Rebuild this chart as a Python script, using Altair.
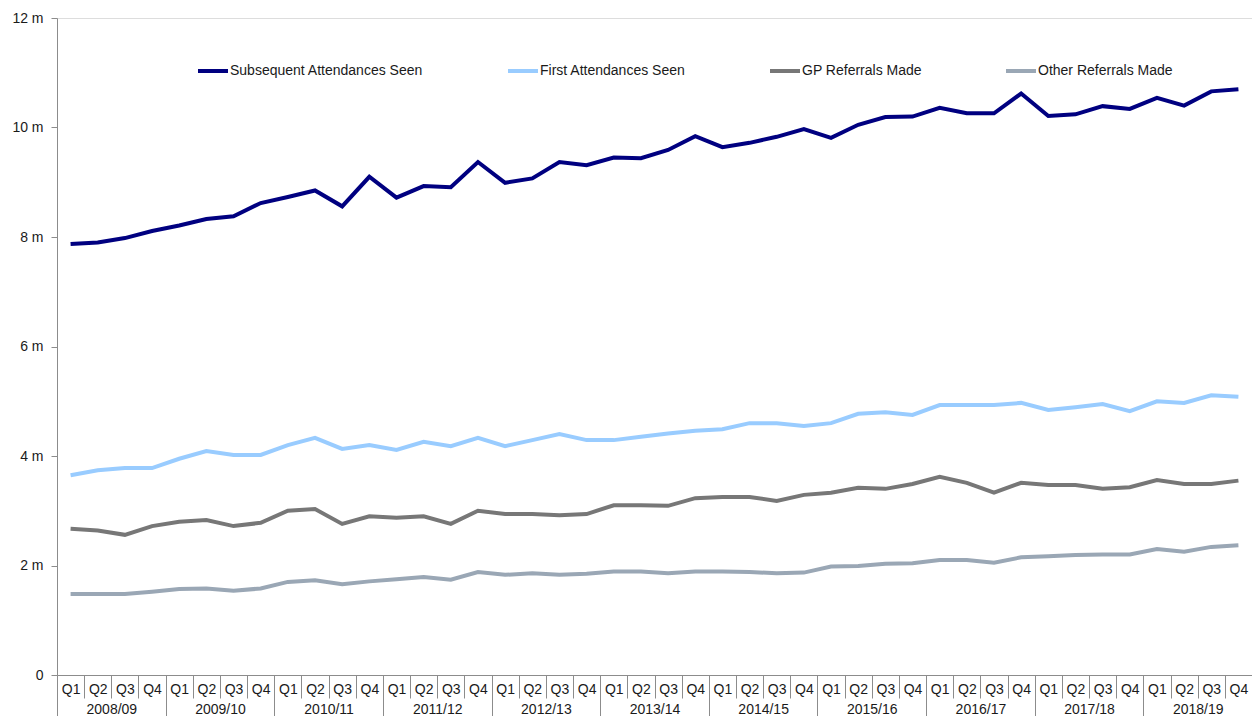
import altair as alt
import pandas as pd

years = ["2008/09", "2009/10", "2010/11", "2011/12", "2012/13", "2013/14",
         "2014/15", "2015/16", "2016/17", "2017/18", "2018/19"]
quarters = ["Q1", "Q2", "Q3", "Q4"]

series_names = ["Subsequent Attendances Seen", "First Attendances Seen",
                "GP Referrals Made", "Other Referrals Made"]
series_colors = ["#000080", "#99CCFF", "#777777", "#9AA7B5"]

# values in millions, one per quarter (2008/09 Q1 ... 2018/19 Q4)
subsequent = [7.87, 7.90, 7.98, 8.11, 8.21, 8.33, 8.38, 8.62, 8.73, 8.85, 8.56, 9.10,
              8.72, 8.93, 8.91, 9.37, 8.99, 9.07, 9.37, 9.31, 9.45, 9.44, 9.59, 9.84,
              9.64, 9.72, 9.83, 9.97, 9.81, 10.05, 10.19, 10.20, 10.36, 10.26, 10.26, 10.62,
              10.21, 10.24, 10.39, 10.34, 10.54, 10.40, 10.66, 10.70]
first = [3.65, 3.74, 3.78, 3.78, 3.95, 4.09, 4.02, 4.02, 4.20, 4.33, 4.13, 4.20,
         4.11, 4.26, 4.18, 4.33, 4.18, 4.29, 4.40, 4.29, 4.29, 4.35, 4.41, 4.46,
         4.49, 4.60, 4.60, 4.55, 4.60, 4.77, 4.80, 4.75, 4.93, 4.93, 4.93, 4.97,
         4.84, 4.89, 4.95, 4.82, 5.00, 4.97, 5.11, 5.08]
gp = [2.67, 2.64, 2.56, 2.72, 2.80, 2.83, 2.72, 2.78, 3.00, 3.03, 2.76, 2.90,
      2.87, 2.90, 2.76, 3.00, 2.94, 2.94, 2.92, 2.94, 3.10, 3.10, 3.09, 3.23,
      3.25, 3.25, 3.18, 3.29, 3.33, 3.42, 3.40, 3.49, 3.62, 3.51, 3.33, 3.51,
      3.47, 3.47, 3.40, 3.43, 3.56, 3.49, 3.49, 3.55]
other = [1.48, 1.48, 1.48, 1.52, 1.57, 1.58, 1.54, 1.58, 1.70, 1.73, 1.66, 1.71,
         1.75, 1.79, 1.74, 1.88, 1.83, 1.86, 1.83, 1.85, 1.89, 1.89, 1.86, 1.89,
         1.89, 1.88, 1.86, 1.87, 1.98, 1.99, 2.03, 2.04, 2.10, 2.10, 2.05, 2.15,
         2.17, 2.19, 2.20, 2.20, 2.30, 2.25, 2.34, 2.37]

all_values = [subsequent, first, gp, other]
n = len(years) * len(quarters)

rows = []
for name, vals in zip(series_names, all_values):
    for i, v in enumerate(vals):
        rows.append({"pos": i + 0.5, "series": name, "value": v,
                     "label": f"{years[i // 4]} {quarters[i % 4]}"})
df = pd.DataFrame(rows)

FONT = "Liberation Sans"
AX = "#8c8c8c"
xscale = alt.Scale(domain=[0, n], nice=False, zero=False)

year_js = "[" + ",".join(f"'{y}'" for y in years) + "]"

q_axis = alt.Axis(orient="bottom", values=[i + 0.5 for i in range(n)],
                  labelExpr="'Q' + (floor(datum.value) % 4 + 1)",
                  ticks=False, tickSize=0, domain=True, domainColor=AX, grid=False,
                  labelFontSize=14, labelFont=FONT, labelColor="#1a1a1a",
                  labelPadding=7, labelFlush=False, labelOverlap=False, title=None)
qsep_axis = alt.Axis(orient="bottom", values=list(range(n + 1)), labels=False,
                     ticks=True, tickSize=23, tickColor=AX, tickWidth=1,
                     domain=False, grid=False, title=None)
year_axis = alt.Axis(orient="bottom", values=[i * 4 + 2 for i in range(len(years))],
                     labelExpr=year_js + "[floor(datum.value / 4)]",
                     ticks=False, tickSize=0, domain=False, grid=False,
                     labelFontSize=14, labelFont=FONT, labelColor="#1a1a1a",
                     labelPadding=27, labelFlush=False, labelOverlap=False, title=None)
ysep_axis = alt.Axis(orient="bottom", values=[i * 4 for i in range(len(years) + 1)],
                     labels=False, ticks=True, tickSize=41, tickColor=AX, tickWidth=1,
                     domain=False, grid=False, title=None)

lines = alt.Chart(df).mark_line(strokeWidth=4, strokeJoin="miter").encode(
    x=alt.X("pos:Q", scale=xscale, axis=q_axis),
    y=alt.Y("value:Q", scale=alt.Scale(domain=[0, 12], nice=False),
            axis=alt.Axis(values=[0, 2, 4, 6, 8, 10, 12],
                          labelExpr="datum.value == 0 ? '0' : datum.value + ' m'",
                          grid=False, domainColor=AX, tickColor=AX, tickSize=6,
                          labelFontSize=14, labelFont=FONT, labelColor="#1a1a1a",
                          labelPadding=8, title=None)),
    color=alt.Color("series:N",
                    scale=alt.Scale(domain=series_names, range=series_colors),
                    legend=alt.Legend(orient="none", legendX=139, legendY=36,
                                      direction="horizontal", title=None,
                                      symbolType="stroke", symbolSize=900,
                                      symbolStrokeWidth=4, labelFontSize=14,
                                      labelFont=FONT, labelColor="#1a1a1a",
                                      labelLimit=0,
                                      labelOffset=0, columnPadding=76, padding=0)),
    detail="series:N",
)


def ghost(axis):
    return alt.Chart(df).mark_point(opacity=0).encode(
        x=alt.X("pos:Q", scale=xscale, axis=axis))


chart = alt.layer(
    lines, ghost(qsep_axis), ghost(year_axis), ghost(ysep_axis)
).resolve_axis(x="independent").properties(
    width=1195, height=657,
    autosize=alt.AutoSizeParams(type="none"),
    padding={"left": 49, "top": 10, "right": 0, "bottom": 41},
).configure_view(stroke="#f0f0f0").configure(background="white")

chart.save("out.html", embed_options={"renderer": "svg", "actions": False})
